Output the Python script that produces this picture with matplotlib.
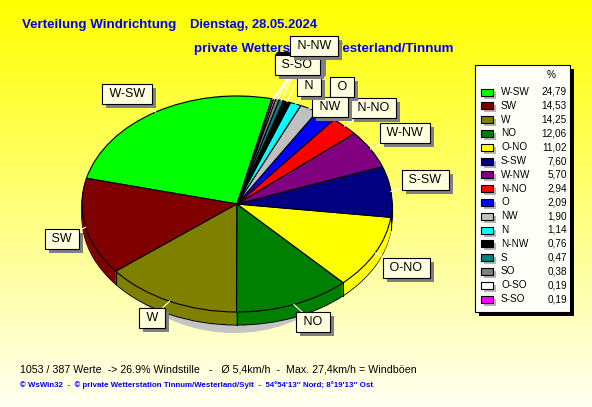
import numpy as np
import matplotlib
matplotlib.use('Agg')
import matplotlib.pyplot as plt
from matplotlib.patches import Rectangle, Ellipse
from matplotlib.transforms import Affine2D

plt.rcParams['font.family'] = ['Liberation Sans', 'DejaVu Sans']

# ---------------- data ----------------
names = ['W-SW', 'SW', 'W', 'NO', 'O-NO', 'S-SW', 'W-NW', 'N-NO', 'O', 'NW',
         'N', 'N-NW', 'S', 'SO', 'O-SO', 'S-SO']
values = [24.79, 14.53, 14.25, 12.06, 11.02, 7.60, 5.70, 2.94, 2.09, 1.90,
          1.14, 0.76, 0.47, 0.38, 0.19, 0.19]
colors = ['#00FF00', '#800000', '#808000', '#008000', '#FFFF00', '#000080',
          '#800080', '#FF0000', '#0000FF', '#C0C0C0', '#00FFFF', '#000000',
          '#008080', '#808080', '#FFFFFF', '#FF00FF']
title_left = 'Verteilung Windrichtung'
title_date = 'Dienstag, 28.05.2024'
subtitle = 'private Wetterstation Westerland/Tinnum'
stats_line = '1053 / 387 Werte  -> 26.9% Windstille   -   \u00d8 5,4km/h  -  Max. 27,4km/h = Windb\u00f6en'
credit_line = "\u00a9 WsWin32  -  \u00a9 private Wetterstation Tinnum/Westerland/Sylt  -  54\u00b054'13'' Nord; 8\u00b019'13'' Ost"
legend_header = '%'

# ---------------- layout ----------------
W, H = 592, 407
CX, CY = 237, 204      # pie centre (pixels, y down)
RX, RY = 155, 108      # ellipse radii
DEPTH = 13
START = 77
label_xy = [(127, 94), (62, 239), (152, 318), (313, 322), (406, 268), (425, 180),
            (405, 133), (373, 108), (342, 87), (330, 107), (309, 86), (314, 46),
            (299, 62), (298, 63), (297.5, 64), (297, 65)]
hidden = [12, 13, 14]          # labels hidden behind the S-SO box
label_order = [0, 1, 2, 3, 4, 5, 6, 7, 8, 9, 10, 12, 13, 14, 15, 11]

fig = plt.figure(figsize=(W / 100, H / 100), dpi=100)
ax = fig.add_axes([0, 0, 1, 1])


def Y(y):
    return H - y


# background gradient
t = np.linspace(0, 1, 256)[:, None, None]
top = np.array([1.0, 1.0, 0.0])
bot = np.array([1.0, 1.0, 0.95])
img = top + (bot - top) * t
ax.imshow(img, extent=(0, W, 0, H), aspect='auto', origin='upper', zorder=0)

# pie shadow
ax.add_patch(Ellipse((CX - 3, Y(CY + 10)), 2 * RX - 34, 2 * RY + 22,
                     fc='#C4C4C4', ec='none', zorder=1))


def pie_layer(offset, edge, z):
    wedges, _ = ax.pie(values, colors=colors, startangle=START, counterclock=True,
                       radius=1, center=(0, 0))
    tr = Affine2D().scale(RX, RY).translate(CX, Y(CY) - offset) + ax.transData
    for w in wedges:
        w.set_transform(tr)
        w.set_zorder(z)
        if edge:
            w.set_edgecolor('black')
            w.set_linewidth(0.8)
        else:
            w.set_edgecolor(w.get_facecolor())
            w.set_linewidth(0.6)
    return wedges


pie_layer(DEPTH, True, 2)
for k in range(DEPTH - 1, 0, -1):
    pie_layer(k, False, 2)
top_wedges = pie_layer(0, True, 3)

# side boundary lines
for w in top_wedges:
    th = np.deg2rad(w.theta1)
    if np.sin(th) < -0.02:
        x = CX + RX * np.cos(th)
        y0 = Y(CY) + RY * np.sin(th)
        ax.plot([x, x], [y0, y0 - DEPTH], color='black', lw=0.8, zorder=2.5)
for sx in (CX - RX, CX + RX):
    ax.plot([sx, sx], [Y(CY), Y(CY) - DEPTH], color='black', lw=0.8, zorder=2.5)

# leader lines
for i in label_order:
    w = top_wedges[i]
    mid = np.deg2rad((w.theta1 + w.theta2) / 2)
    rx = CX + RX * np.cos(mid)
    ry = Y(CY) + RY * np.sin(mid)
    lx, ly = label_xy[i]
    ax.plot([rx, lx], [ry, Y(ly)], color='white', lw=0.8, zorder=4)

# titles
ax.text(22, Y(25), title_left, fontsize=9.6, fontweight='bold', color='#0000FF',
        ha='left', va='center', zorder=3)
ax.text(190, Y(25), title_date, fontsize=9.4, fontweight='bold', color='#0000FF',
        ha='left', va='center', zorder=3)
ax.text(194, Y(49), subtitle, fontsize=9.6, fontweight='bold', color='#0000FF',
        ha='left', va='center', zorder=3)

# bottom texts
ax.text(20, Y(369), stats_line, fontsize=7.65, color='black', ha='left', va='center')
ax.text(20, Y(385), credit_line, fontsize=5.65, fontweight='bold', color='#0000FF',
        ha='left', va='center')

# legend
LZ = 60
ax.add_patch(Rectangle((479, Y(316)), 95, 247, fc='black', ec='none', zorder=LZ))
ax.add_patch(Rectangle((475, Y(312)), 95, 247, fc='#FFFFFA', ec='black', lw=0.8, zorder=LZ + 1))
ax.text(551, Y(75), legend_header, fontsize=7.2, ha='center', va='center', zorder=LZ + 2)
for i, (nm, v, c) in enumerate(zip(names, values, colors)):
    yc = 92 + 13.8 * i
    ax.add_patch(Rectangle((484, Y(yc + 6.5)), 12, 7, fc='#B4B4B4', ec='none', zorder=LZ + 2))
    ax.add_patch(Rectangle((481, Y(yc + 3.5)), 12, 7, fc=c, ec='black', lw=0.8, zorder=LZ + 3))
    ax.text(501, Y(yc), nm, fontsize=7.2, ha='left', va='center', zorder=LZ + 3)
    ax.text(567, Y(yc), ('%.2f' % v).replace('.', ','), fontsize=7.2, ha='right',
            va='center', zorder=LZ + 3)

ax.set_xlim(0, W)
ax.set_ylim(0, H)
ax.set_aspect('auto')
ax.axis('off')

# label boxes (text with box), shadows added after measuring the boxes
label_texts = {}
for n, i in enumerate(label_order):
    if i in hidden:
        continue
    lx, ly = label_xy[i]
    label_texts[i] = ax.text(lx, Y(ly), ' %s ' % names[i], fontsize=9, color='black',
                             ha='center', va='center',
                             bbox=dict(boxstyle='square,pad=0.3', fc='#FFFFE0',
                                       ec='black', lw=0.8),
                             zorder=6 + 2 * n)

fig.canvas.draw()
inv = ax.transData.inverted()
ref_box = None
for n, i in enumerate(label_order):
    if i in hidden:
        continue
    bb = label_texts[i].get_bbox_patch().get_window_extent()
    (x0, y0), (x1, y1) = inv.transform([[bb.x0, bb.y0], [bb.x1, bb.y1]])
    ax.add_patch(Rectangle((x0 + 4, y0 - 4), x1 - x0, y1 - y0, fc='#808080', ec='none',
                           zorder=5 + 2 * n))
    if i == 15:
        ref_box = (x1 - x0, y1 - y0)

# boxes hidden behind the S-SO label (only their edges peek out)
bw, bh = ref_box
for n, i in enumerate(label_order):
    if i not in hidden:
        continue
    lx, ly = label_xy[i]
    ax.add_patch(Rectangle((lx - bw / 2 + 4, Y(ly) - bh / 2 - 4), bw, bh, fc='#808080',
                           ec='none', zorder=5 + 2 * n))
    ax.add_patch(Rectangle((lx - bw / 2, Y(ly) - bh / 2), bw, bh, fc='#FFFFE0',
                           ec='black', lw=0.8, zorder=6 + 2 * n))

fig.savefig('out.png', dpi=100)
